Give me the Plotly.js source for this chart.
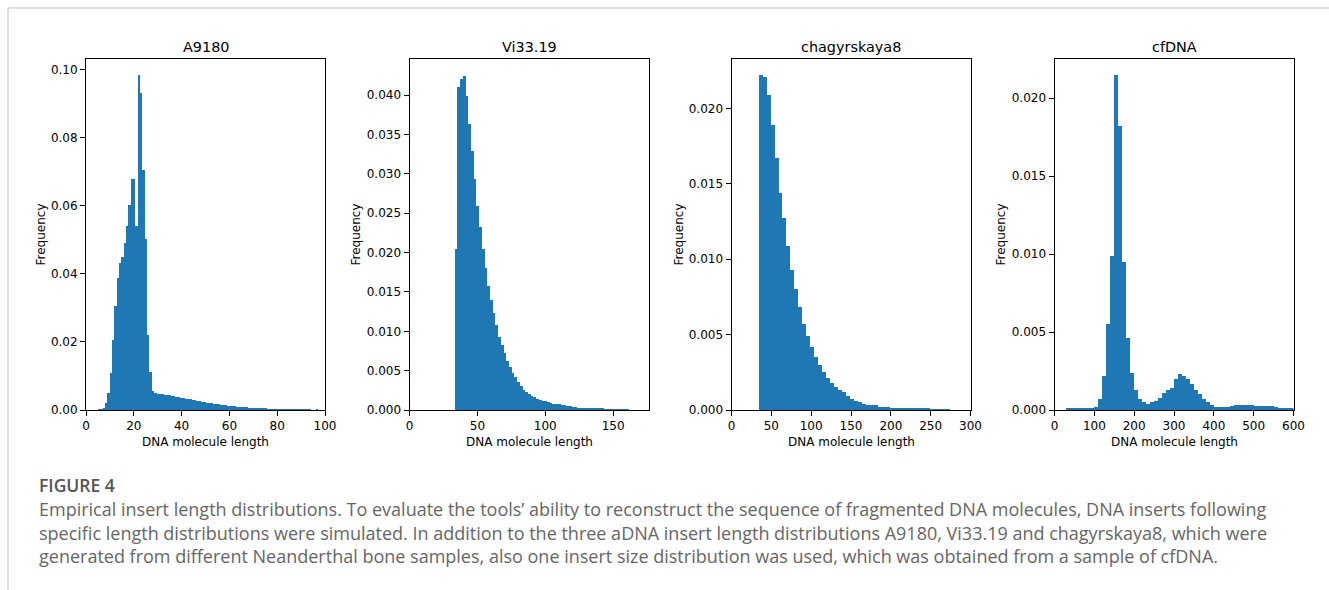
<!DOCTYPE html>
<html>
<head>
<meta charset="utf-8">
<script src="https://cdn.plot.ly/plotly-3.0.1.min.js"></script>
<style>
  html, body { margin: 0; padding: 0; background: #ffffff; }
  #chart { width: 1329px; height: 590px; }
</style>
</head>
<body>
<div id="chart"></div>
<script>
// ---------- data ----------
const panelTitles = ["A9180", "Vi33.19", "chagyrskaya8", "cfDNA"];
const xLabel = "DNA molecule length";
const yLabel = "Frequency";

// histogram bin layout per panel: first bin left edge and bin width
const a9180Start = 5, a9180Width = 0.98;
const vi3319Start = 33.3, vi3319Width = 2;
const chagStart = 34, chagWidth = 5;
const cfdnaStart = 30, cfdnaWidth = 10;

const a9180Freq = [
  0.0002,0.0003,0.0006,0.0022,0.0051,0.0108,0.0206,0.0307,0.0387,0.0431,
  0.0449,0.0490,0.0540,0.0603,0.0680,0.0680,0.0540,0.0985,0.0933,0.0706,
  0.0503,0.0220,0.0113,0.0056,0.0049,0.0047,0.0046,0.0046,0.0044,0.0045,
  0.0043,0.0041,0.0040,0.0038,0.0037,0.0036,0.0034,0.0033,0.0032,0.0031,
  0.0030,0.0028,0.0027,0.0026,0.0025,0.0024,0.0022,0.0021,0.0020,0.0019,
  0.0018,0.0017,0.0016,0.0015,0.0014,0.0013,0.0012,0.0011,0.0011,0.0010,
  0.0009,0.0009,0.0008,0.0008,0.0007,0.0007,0.0006,0.0006,0.0005,0.0005,
  0.0005,0.0005,0.0004,0.0004,0.0003,0.0003,0.0003,0.0003,0.0003,0.0003,
  0.0003,0.0002,0.0002,0.0002,0.0002,0.0002,0.0002,0.0002,0.0002,0.0002,
  0.0002,0.0001,0.0001,0.0002,0.0001
];

const vi3319Freq = [
  0.0205,0.0410,0.0420,0.0425,0.0399,0.0364,0.0329,0.0294,0.0259,0.0232,
  0.0204,0.0180,0.0157,0.0140,0.0123,0.0108,0.0093,0.0083,0.0072,0.0062,
  0.0055,0.0047,0.0042,0.0036,0.0030,0.0026,0.0023,0.0020,0.0018,0.0016,
  0.0014,0.0013,0.0012,0.0011,0.0010,0.0009,0.0008,0.0008,0.0007,0.0006,
  0.0006,0.0005,0.0005,0.0004,0.0004,0.0003,0.0003,0.0003,0.0003,0.0003,
  0.0002,0.0002,0.0002,0.0002,0.0002,0.00015,0.00015,0.00015,0.0001,0.0001,
  0.0001,0.0001,0.0001,0.0001
];

const chagFreq = [
  0.0222,0.0221,0.0209,0.0189,0.0167,0.0144,0.0127,0.0109,0.0093,0.0080,
  0.0068,0.0057,0.0049,0.0042,0.0035,0.0030,0.0025,0.0021,0.0018,0.0015,
  0.0013,0.0012,0.0009,0.0007,0.0006,0.0005,0.0004,0.0003,0.0003,0.0003,
  0.0002,0.0002,0.0002,0.00015,0.00015,0.00015,0.0001,0.0001,0.0001,0.0001,
  0.0001,0.0001,0.0001,0.00008,0.00008,0.00008,0.00008,0.00008
];

const cfdnaFreq = [
  0.0001,0.0001,0.0001,0.0001,0.0001,0.0001,0.00015,0.0002,0.0007,0.0022,
  0.0055,0.0099,0.0215,0.0182,0.0095,0.0046,0.0024,0.0013,0.0007,0.0005,
  0.0004,0.0005,0.0006,0.0008,0.0011,0.0013,0.0014,0.0020,0.0023,0.0022,
  0.0020,0.0017,0.0013,0.0010,0.0007,0.0005,0.0003,0.0002,0.0002,0.0002,
  0.0002,0.00025,0.0003,0.0003,0.00032,0.0003,0.0003,0.00025,0.00025,0.00025,
  0.00025,0.00025,0.0002,0.0001,0.0001,0.0001,0.0001
];

const xTickVals = [[0,20,40,60,80,100],[0,50,100,150],[0,50,100,150,200,250,300],[0,100,200,300,400,500,600]];
const yTickVals = [[0,0.02,0.04,0.06,0.08,0.10],[0,0.005,0.010,0.015,0.020,0.025,0.030,0.035,0.040],
                   [0,0.005,0.010,0.015,0.020],[0,0.005,0.010,0.015,0.020]];

const captionHead = "FIGURE 4";
const captionLines = [
  "Empirical insert length distributions. To evaluate the tools’ ability to reconstruct the sequence of fragmented DNA molecules, DNA inserts following",
  "specific length distributions were simulated. In addition to the three aDNA insert length distributions A9180, Vi33.19 and chagyrskaya8, which were",
  "generated from different Neanderthal bone samples, also one insert size distribution was used, which was obtained from a sample of cfDNA."
];

// ---------- layout ----------
const W = 1329, H = 590;
const frameLeft = [86, 409.5, 731.5, 1054.5];
const frameW = 239;
const frameTop = 59, frameBottom = 410;
const xRanges = [[0,100],[0,176],[0,300],[0,600]];
const yRanges = [[0,0.1032],[0,0.0446],[0,0.02327],[0,0.02252]];
const yFmt = [".2f", ".3f", ".3f", ".3f"];
const yLabelX = [40, 355, 678, 1000];

const series = [
  {start: a9180Start, width: a9180Width, freq: a9180Freq},
  {start: vi3319Start, width: vi3319Width, freq: vi3319Freq},
  {start: chagStart, width: chagWidth, freq: chagFreq},
  {start: cfdnaStart, width: cfdnaWidth, freq: cfdnaFreq}
];

const font = "DejaVu Sans, sans-serif";
const data = [];
const layout = {
  width: W, height: H,
  margin: {l: 0, r: 0, t: 0, b: 0},
  paper_bgcolor: "#ffffff",
  plot_bgcolor: "#ffffff",
  showlegend: false,
  bargap: 0,
  annotations: [],
  shapes: [
    {type: "line", xref: "paper", yref: "paper", x0: 8/W, x1: 1, y0: 1 - 8/H, y1: 1 - 8/H,
     line: {color: "#d4d4d4", width: 1.5}},
    {type: "line", xref: "paper", yref: "paper", x0: 8/W, x1: 8/W, y0: 0, y1: 1 - 8/H,
     line: {color: "#d4d4d4", width: 1.5}}
  ]
};

series.forEach((s, i) => {
  const n = i + 1;
  const xa = n === 1 ? "x" : "x" + n;
  const ya = n === 1 ? "y" : "y" + n;
  const centers = s.freq.map((_, k) => s.start + s.width * (k + 0.5));
  data.push({
    type: "bar",
    x: centers,
    y: s.freq,
    width: s.width,
    xaxis: xa, yaxis: ya,
    marker: {color: "#1f77b4", line: {width: 0}},
    hoverinfo: "x+y"
  });
  const axCommon = {
    showline: true, mirror: true, linecolor: "#000000", linewidth: 1,
    ticks: "outside", ticklen: 5, tickwidth: 1, tickcolor: "#000000",
    showgrid: false, zeroline: false, fixedrange: true,
    tickfont: {family: font, size: 12, color: "#000000"}
  };
  layout["xaxis" + (n === 1 ? "" : n)] = Object.assign({}, axCommon, {
    domain: [frameLeft[i] / W, (frameLeft[i] + frameW) / W],
    range: xRanges[i],
    anchor: ya,
    tickmode: "array", tickvals: xTickVals[i], ticktext: xTickVals[i].map(String)
  });
  layout["yaxis" + (n === 1 ? "" : n)] = Object.assign({}, axCommon, {
    domain: [1 - frameBottom / H, 1 - frameTop / H],
    range: yRanges[i],
    anchor: xa,
    tickmode: "array", tickvals: yTickVals[i], tickformat: yFmt[i]
  });
  const cx = (frameLeft[i] + frameW / 2) / W;
  layout.annotations.push({
    text: panelTitles[i], xref: "paper", yref: "paper", x: cx, y: 1 - 46.5 / H,
    xanchor: "center", yanchor: "middle", showarrow: false,
    font: {family: font, size: 14.4, color: "#000000"}
  });
  layout.annotations.push({
    text: xLabel, xref: "paper", yref: "paper", x: cx, y: 1 - 441.5 / H,
    xanchor: "center", yanchor: "middle", showarrow: false,
    font: {family: font, size: 12, color: "#000000"}
  });
  layout.annotations.push({
    text: yLabel, xref: "paper", yref: "paper", x: yLabelX[i] / W, y: 1 - ((frameTop + frameBottom) / 2) / H,
    xanchor: "center", yanchor: "middle", showarrow: false, textangle: -90,
    font: {family: font, size: 12, color: "#000000"}
  });
});

layout.annotations.push({
  text: captionHead, xref: "paper", yref: "paper", x: 37 / W, y: 1 - 485 / H,
  xanchor: "left", yanchor: "middle", showarrow: false,
  font: {family: "Open Sans, sans-serif", size: 17.5, color: "#555555", weight: 600}
});
const lineY = [509, 532.5, 556];
captionLines.forEach((t, k) => {
  layout.annotations.push({
    text: t, xref: "paper", yref: "paper", x: 37 / W, y: 1 - lineY[k] / H,
    xanchor: "left", yanchor: "middle", showarrow: false,
    font: {family: "Open Sans, sans-serif", size: 18, color: "#666666", weight: 400}
  });
});

Plotly.newPlot("chart", data, layout, {displayModeBar: false, staticPlot: true});
</script>
</body>
</html>
